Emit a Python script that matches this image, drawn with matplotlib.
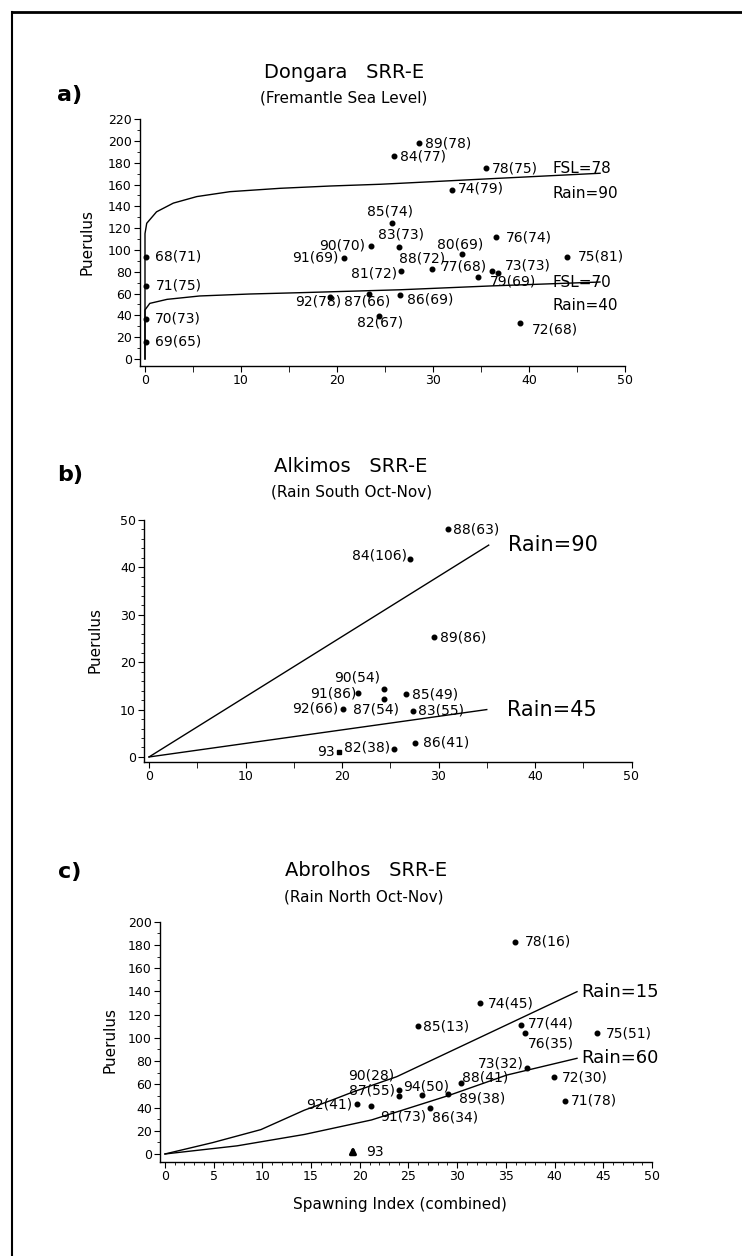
import matplotlib
matplotlib.use('Agg')
import matplotlib.pyplot as plt
from matplotlib.lines import Line2D
from matplotlib.ticker import MultipleLocator

plt.rcParams['font.family'] = ['DejaVu Sans']

# ---------------- data ----------------
# Panel a: Dongara
a_labels = ["89(78)", "84(77)", "78(75)", "74(79)", "85(74)", "83(73)", "90(70)", "91(69)",
            "81(72)", "80(69)", "76(74)", "88(72)", "77(68)", "73(73)", "79(69)", "75(81)",
            "92(78)", "87(66)", "86(69)", "82(67)", "72(68)", "68(71)", "71(75)", "70(73)", "69(65)"]
a_x = [28.5, 25.9, 35.5, 32.0, 25.7, 26.5, 23.5, 20.7, 26.7, 33.0, 36.6, 29.9, 36.1, 36.8,
       34.7, 44.0, 19.3, 23.3, 26.6, 24.4, 39.1, 0.15, 0.15, 0.1, 0.1]
a_y = [198, 186, 175, 155, 125, 103, 104, 93, 81, 96, 112, 83, 81, 79, 75, 94, 57, 60, 59,
       39, 33, 94, 67, 37, 16]
a_fsl78_x = [0, 0, 0, 0.18, 1.2, 2.95, 5.4, 8.85, 14.1, 19.3, 24.5, 26.6, 36, 47.4]
a_fsl78_y = [0, 103, 115, 124.5, 135, 143, 149, 153.5, 156.6, 158.7, 160.3, 161.2, 165.4, 170.4]
a_fsl70_x = [0, 0, 0.5, 2.3, 5.7, 10.9, 16.1, 26.6, 36, 47.4]
a_fsl70_y = [0, 45, 51, 54.7, 57.8, 59.6, 60.8, 63.5, 67, 70.6]

# Panel b: Alkimos
b_labels = ["88(63)", "84(106)", "89(86)", "90(54)", "91(86)", "87(54)", "92(66)", "83(55)",
            "85(49)", "93", "82(38)", "86(41)"]
b_x = [31.0, 27.0, 29.5, 24.4, 21.7, 24.4, 20.1, 27.4, 26.6, 19.7, 25.4, 27.6]
b_y = [48.2, 41.8, 25.3, 14.4, 13.4, 12.2, 10.2, 9.7, 13.2, 1.1, 1.6, 3.0]
b_rain90_x = [0, 35.2]
b_rain90_y = [0, 44.7]
b_rain45_x = [0, 35.0]
b_rain45_y = [0, 10.0]

# Panel c: Abrolhos
c_labels = ["78(16)", "74(45)", "85(13)", "77(44)", "76(35)", "75(51)", "73(32)", "88(41)",
            "90(28)", "87(55)", "94(50)", "89(38)", "86(34)", "91(73)", "92(41)", "72(30)",
            "71(78)", "93"]
c_x = [35.9, 32.3, 26.0, 36.6, 37.0, 44.4, 37.2, 30.4, 24.0, 24.0, 26.4, 29.1, 27.2, 21.2,
       19.7, 39.9, 41.1, 19.3]
c_y = [183, 130, 110, 111, 104, 104, 74, 61, 50, 55, 51, 52, 40, 41, 43, 66, 46, 0]
c_rain15_x = [0, 4.9, 9.85, 14.3, 17.2, 19.2, 23.8, 33.0, 42.3]
c_rain15_y = [0, 9.8, 21, 37.7, 46.6, 53.1, 66.6, 103, 139.8]
c_rain60_x = [0, 7.4, 14.3, 21.2, 29.1, 35.1, 42.3]
c_rain60_y = [0, 7, 16.8, 29.3, 50.3, 68, 82.4]

# ---------------- layout (label offsets in pixels, alignment) ----------------
a_off = [(6, 0, 'left'), (6, 0, 'left'), (6, 0, 'left'), (6, 2, 'left'), (-2, 11, 'center'),
         (2, 12, 'center'), (-5, 0, 'right'), (-5, 0, 'right'), (-4, -3, 'right'),
         (-2, 10, 'center'), (10, -1, 'left'), (-10, 10, 'center'), (-5, 4, 'right'),
         (7, 7, 'left'), (12, -4, 'left'), (10, 0, 'left'), (-12, -5, 'center'),
         (-2, -8, 'center'), (7, -5, 'left'), (1, -6, 'center'), (12, -7, 'left'),
         (9, 0, 'left'), (9, 0, 'left'), (9, 0, 'left'), (9, 0, 'left')]
b_off = [(5, -1, 'left'), (-3, 3, 'right'), (6, 0, 'left'), (-4, 11, 'right'), (-2, 0, 'right'),
         (-8, -10, 'center'), (-5, 0, 'right'), (5, 0, 'left'), (6, 0, 'left'),
         (-4, 0, 'right'), (-4, 2, 'right'), (8, 0, 'left')]
c_off = [(10, 0, 'left'), (8, 0, 'left'), (5, 0, 'left'), (6, 2, 'left'), (3, -10, 'left'),
         (8, 0, 'left'), (-4, 5, 'right'), (1, 6, 'left'), (-4, 20, 'right'), (-4, 0, 'right'),
         (4, 8, 'center'), (11, -5, 'left'), (2, -10, 'left'), (9, -10, 'left'),
         (-5, 0, 'right'), (8, 0, 'left'), (6, 0, 'left'), (13, 2, 'left')]

W, H = 742, 1256
fig = plt.figure(figsize=(W / 100, H / 100), dpi=100)


def rect(l, r, t, b):
    return [l / W, 1 - b / H, (r - l) / W, (b - t) / H]


def ftext(x, y, s, **kw):
    kw.setdefault('ha', 'center')
    kw.setdefault('va', 'center')
    fig.text(x / W, 1 - y / H, s, **kw)


def style(ax, xlim, ylim, xmaj, xmin_, xminlen, ymaj, ymin_):
    ax.set_xlim(*xlim)
    ax.set_ylim(*ylim)
    for s in ['top', 'right']:
        ax.spines[s].set_visible(False)
    for s in ['left', 'bottom']:
        ax.spines[s].set_linewidth(1.0)
    ax.xaxis.set_major_locator(MultipleLocator(xmaj))
    ax.xaxis.set_minor_locator(MultipleLocator(xmin_))
    ax.yaxis.set_major_locator(MultipleLocator(ymaj))
    ax.yaxis.set_minor_locator(MultipleLocator(ymin_))
    ax.tick_params(which='major', direction='out', length=4, width=0.8, labelsize=9, pad=2)
    ax.tick_params(axis='y', which='minor', direction='out', length=2, width=0.6)
    ax.tick_params(axis='x', which='minor', direction='out', length=xminlen, width=0.6)
    ax.patch.set_alpha(0)


def labels(ax, xs, ys, labs, offs, fs=10):
    for x, y, lab, (dx, dy, ha) in zip(xs, ys, labs, offs):
        ax.annotate(lab, (x, y), xytext=(dx, dy), textcoords='offset pixels',
                    ha=ha, va='center', fontsize=fs, annotation_clip=False)


# ---------------- panel a ----------------
axa = fig.add_axes(rect(140.2, 625, 119.2, 365.5))
style(axa, (-0.5, 50), (-6, 220), 10, 5, 4, 20, 10)
axa.plot(a_fsl78_x, a_fsl78_y, color='k', lw=1.0)
axa.plot(a_fsl70_x, a_fsl70_y, color='k', lw=1.0)
axa.plot(a_x, a_y, 'o', ms=3.3, color='k', linestyle='none', clip_on=False)
labels(axa, a_x, a_y, a_labels, a_off)
axa.text(42.5, 175, "FSL=78", fontsize=11, ha='left', va='center')
axa.text(42.5, 152, "Rain=90", fontsize=11, ha='left', va='center')
axa.text(42.5, 70, "FSL=70", fontsize=11, ha='left', va='center')
axa.text(42.5, 49.5, "Rain=40", fontsize=11, ha='left', va='center')
ftext(344, 73, "Dongara   SRR-E", fontsize=14)
ftext(344, 98, "(Fremantle Sea Level)", fontsize=11)
ftext(87, 242, "Puerulus", fontsize=11, rotation=90)
ftext(70, 95, "a)", fontsize=16, fontweight='bold')

# ---------------- panel b ----------------
axb = fig.add_axes(rect(144.2, 631.5, 520, 761.7))
style(axb, (-0.5, 50), (-1, 50), 10, 5, 4, 10, 2)
axb.plot(b_rain90_x, b_rain90_y, color='k', lw=1.0)
axb.plot(b_rain45_x, b_rain45_y, color='k', lw=1.0)
i93 = b_labels.index("93")
bx = [v for i, v in enumerate(b_x) if i != i93]
by = [v for i, v in enumerate(b_y) if i != i93]
axb.plot(bx, by, 'o', ms=3.3, color='k', linestyle='none')
axb.plot([b_x[i93]], [b_y[i93]], 's', ms=3.5, color='k')
labels(axb, b_x, b_y, b_labels, b_off)
axb.text(37.2, 44.7, "Rain=90", fontsize=15, ha='left', va='center')
axb.text(37.1, 10.0, "Rain=45", fontsize=15, ha='left', va='center')
ftext(351, 467, "Alkimos   SRR-E", fontsize=14)
ftext(352, 492, "(Rain South Oct-Nov)", fontsize=11)
ftext(95, 640, "Puerulus", fontsize=11, rotation=90)
ftext(70, 475, "b)", fontsize=16, fontweight='bold')

# ---------------- panel c ----------------
axc = fig.add_axes(rect(160.1, 652, 921.8, 1162.1))
style(axc, (-0.5, 50), (-7, 200), 5, 1, 2, 20, 10)
axc.plot(c_rain15_x, c_rain15_y, color='k', lw=1.0)
axc.plot(c_rain60_x, c_rain60_y, color='k', lw=1.0)
j93 = c_labels.index("93")
cx = [v for i, v in enumerate(c_x) if i != j93]
cy = [v for i, v in enumerate(c_y) if i != j93]
axc.plot(cx, cy, 'o', ms=3.3, color='k', linestyle='none')
axc.annotate('', xy=(c_x[j93], c_y[j93] + 9), xytext=(c_x[j93], c_y[j93] - 2),
             arrowprops=dict(arrowstyle='-|>', lw=2.2, color='k', mutation_scale=9))
labels(axc, c_x, c_y, c_labels, c_off)
axc.text(42.7, 139.5, "Rain=15", fontsize=13, ha='left', va='center')
axc.text(42.7, 82.7, "Rain=60", fontsize=13, ha='left', va='center')
ftext(366, 870, "Abrolhos   SRR-E", fontsize=14)
ftext(364, 897, "(Rain North Oct-Nov)", fontsize=11)
ftext(110, 1040, "Puerulus", fontsize=11, rotation=90)
ftext(400, 1204, "Spawning Index (combined)", fontsize=11)
ftext(70, 872, "c)", fontsize=16, fontweight='bold')

# ---------------- page border ----------------
fig.add_artist(Line2D([12 / W, 1], [1 - 12 / H, 1 - 12 / H], transform=fig.transFigure,
                      color='k', lw=2.0))
fig.add_artist(Line2D([12 / W, 12 / W], [0, 1 - 12 / H], transform=fig.transFigure,
                      color='k', lw=1.5))

fig.savefig('out.png', dpi=100)
